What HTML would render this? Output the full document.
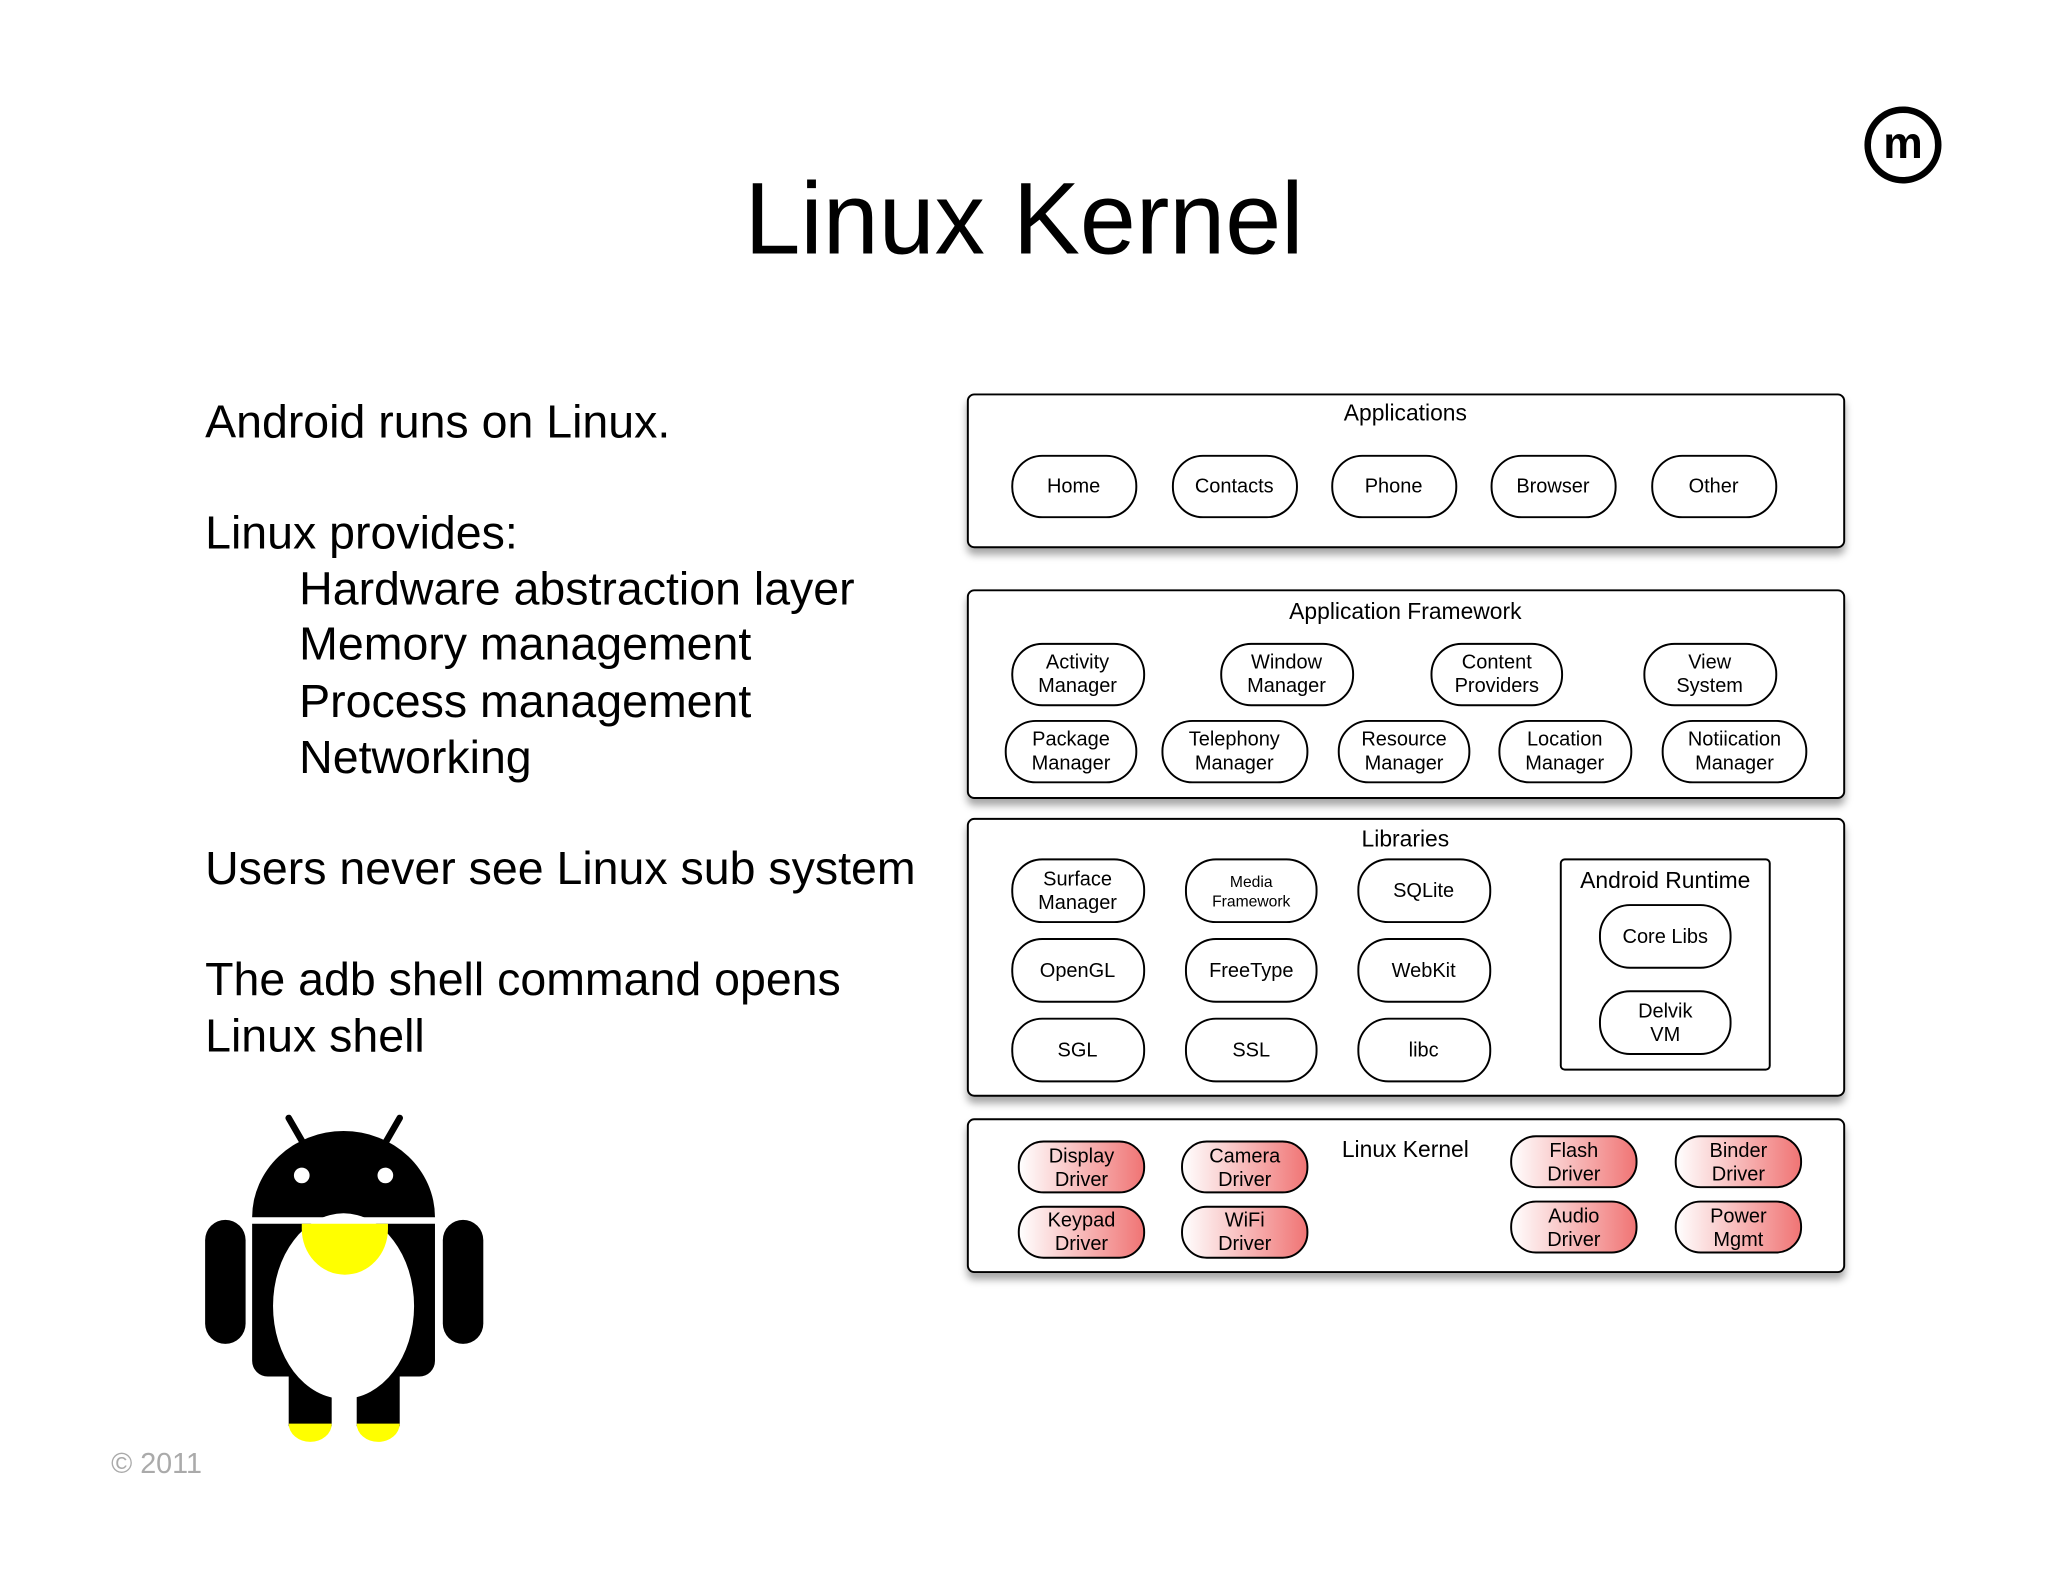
<!DOCTYPE html>
<html><head><meta charset="utf-8"><style>html,body{margin:0;padding:0;background:#fff;overflow:hidden}svg{display:block}</style></head>
<body>
<svg width="2048" height="1582" viewBox="0 0 1568 1211.3" xmlns="http://www.w3.org/2000/svg" font-family="Liberation Sans, sans-serif">
<defs>
<linearGradient id="rg" x1="0" x2="1" y1="0" y2="0"><stop offset="0" stop-color="#fff"/><stop offset="1" stop-color="#f07474"/></linearGradient>
<filter id="sh" x="-5%" y="-10%" width="110%" height="130%"><feDropShadow dx="0" dy="5" stdDeviation="3" flood-color="#000" flood-opacity="0.35"/></filter>
</defs>
<rect width="1568" height="1212" fill="#fff"/>
<text x="784" y="194" font-size="78" text-anchor="middle" fill="#000" textLength="428" lengthAdjust="spacingAndGlyphs">Linux Kernel</text>
<circle cx="1457" cy="111" r="27" fill="none" stroke="#000" stroke-width="5"/>
<text x="1457" y="121" font-size="34" font-weight="bold" text-anchor="middle">m</text>
<g font-size="35.6" fill="#000">
<text x="157" y="335">Android runs on Linux.</text>
<text x="157" y="420">Linux provides:</text>
<text x="229" y="463">Hardware abstraction layer</text>
<text x="229" y="505">Memory management</text>
<text x="229" y="549">Process management</text>
<text x="229" y="592">Networking</text>
<text x="157" y="677">Users never see Linux sub system</text>
<text x="157" y="762">The adb shell command opens</text>
<text x="157" y="805">Linux shell</text>
</g>
<text x="85" y="1128" font-size="22" fill="#aaa">© 2011</text>
<rect x="157" y="1105" width="10" height="30" fill="#fff"/>
<g>
<line x1="221" y1="856" x2="236" y2="882" stroke="#000" stroke-width="5" stroke-linecap="round"/>
<line x1="306" y1="856" x2="291" y2="882" stroke="#000" stroke-width="5" stroke-linecap="round"/>
<path d="M193 932 A70 66 0 0 1 333 932 Z" fill="#000"/>
<circle cx="231" cy="900" r="6" fill="#fff"/><circle cx="295" cy="900" r="6" fill="#fff"/>
<rect x="157" y="934" width="31" height="95" rx="15.5" fill="#000"/>
<rect x="339" y="934" width="31" height="95" rx="15.5" fill="#000"/>
<rect x="221" y="1030" width="33" height="62" fill="#000"/>
<rect x="273" y="1030" width="33" height="62" fill="#000"/>
<path d="M221 1090 h33 a16.5 14 0 0 1 -33 0 Z" fill="#ff0"/>
<path d="M273 1090 h33 a16.5 14 0 0 1 -33 0 Z" fill="#ff0"/>
<path d="M193 937 h140 v105 a12 12 0 0 1 -12 12 h-116 a12 12 0 0 1 -12 -12 Z" fill="#000"/>
<ellipse cx="263" cy="1000" rx="54" ry="71" fill="#fff"/>
<rect x="254" y="1040" width="19" height="60" fill="#fff"/>
<path d="M231 937 h66 v4 a33 35 0 0 1 -66 0 Z" fill="#ff0"/>
</g>
<g fill="#fff" stroke="#000" stroke-width="1.5" filter="url(#sh)">
<rect x="741" y="302" width="671" height="117" rx="5"/>
<rect x="741" y="452" width="671" height="159" rx="5"/>
<rect x="741" y="627" width="671" height="212" rx="5"/>
<rect x="741" y="857" width="671" height="117" rx="5"/>
</g>
<g font-size="17.5" text-anchor="middle" fill="#000">
<text x="1076" y="322">Applications</text>
<text x="1076" y="474">Application Framework</text>
<text x="1076" y="648">Libraries</text>
<text x="1076" y="886">Linux Kernel</text>
</g>
<g fill="#fff" stroke="#000" stroke-width="1.5">
<rect x="775" y="349" width="95" height="47" rx="23"/>
<rect x="898" y="349" width="95" height="47" rx="23"/>
<rect x="1020" y="349" width="95" height="47" rx="23"/>
<rect x="1142" y="349" width="95" height="47" rx="23"/>
<rect x="1265" y="349" width="95" height="47" rx="23"/>
<rect x="775" y="493" width="101" height="47" rx="23"/>
<rect x="935" y="493" width="101" height="47" rx="23"/>
<rect x="1096" y="493" width="100" height="47" rx="23"/>
<rect x="1259" y="493" width="101" height="47" rx="23"/>
<rect x="770" y="552" width="100" height="47" rx="23"/>
<rect x="890" y="552" width="111" height="47" rx="23"/>
<rect x="1025" y="552" width="100" height="47" rx="23"/>
<rect x="1148" y="552" width="101" height="47" rx="23"/>
<rect x="1273" y="552" width="110" height="47" rx="23"/>
<rect x="775" y="658" width="101" height="48" rx="23"/>
<rect x="908" y="658" width="100" height="48" rx="23"/>
<rect x="1040" y="658" width="101" height="48" rx="23"/>
<rect x="775" y="719" width="101" height="48" rx="23"/>
<rect x="908" y="719" width="100" height="48" rx="23"/>
<rect x="1040" y="719" width="101" height="48" rx="23"/>
<rect x="775" y="780" width="101" height="48" rx="23"/>
<rect x="908" y="780" width="100" height="48" rx="23"/>
<rect x="1040" y="780" width="101" height="48" rx="23"/>
<rect x="1195" y="658" width="160" height="161" rx="3"/>
<rect x="1225" y="693" width="100" height="48" rx="23"/>
<rect x="1225" y="759" width="100" height="48" rx="23"/>
</g>
<g fill="url(#rg)" stroke="#000" stroke-width="1.5">
<rect x="780" y="874" width="96" height="39" rx="19"/>
<rect x="905" y="874" width="96" height="39" rx="19"/>
<rect x="780" y="924" width="96" height="39" rx="19"/>
<rect x="905" y="924" width="96" height="39" rx="19"/>
<rect x="1157" y="870" width="96" height="39" rx="19"/>
<rect x="1283" y="870" width="96" height="39" rx="19"/>
<rect x="1157" y="920" width="96" height="39" rx="19"/>
<rect x="1283" y="920" width="96" height="39" rx="19"/>
</g>
<g font-size="15.3" text-anchor="middle" fill="#000">
<text x="822" y="377">Home</text><text x="945" y="377">Contacts</text><text x="1067" y="377">Phone</text><text x="1189" y="377">Browser</text><text x="1312" y="377">Other</text>
<text x="825" y="512">Activity</text><text x="825" y="530">Manager</text>
<text x="985" y="512">Window</text><text x="985" y="530">Manager</text>
<text x="1146" y="512">Content</text><text x="1146" y="530">Providers</text>
<text x="1309" y="512">View</text><text x="1309" y="530">System</text>
<text x="820" y="571">Package</text><text x="820" y="589">Manager</text>
<text x="945" y="571">Telephony</text><text x="945" y="589">Manager</text>
<text x="1075" y="571">Resource</text><text x="1075" y="589">Manager</text>
<text x="1198" y="571">Location</text><text x="1198" y="589">Manager</text>
<text x="1328" y="571">Notiication</text><text x="1328" y="589">Manager</text>
<text x="825" y="678">Surface</text><text x="825" y="696">Manager</text>
<text x="958" y="679" font-size="12">Media</text><text x="958" y="694" font-size="12">Framework</text>
<text x="1090" y="687">SQLite</text>
<text x="825" y="748">OpenGL</text><text x="958" y="748">FreeType</text><text x="1090" y="748">WebKit</text>
<text x="825" y="809">SGL</text><text x="958" y="809">SSL</text><text x="1090" y="809">libc</text>
<text x="1275" y="680" font-size="17.5">Android Runtime</text>
<text x="1275" y="722">Core Libs</text>
<text x="1275" y="779">Delvik</text><text x="1275" y="797">VM</text>
<text x="828" y="890">Display</text><text x="828" y="908">Driver</text>
<text x="953" y="890">Camera</text><text x="953" y="908">Driver</text>
<text x="828" y="939">Keypad</text><text x="828" y="957">Driver</text>
<text x="953" y="939">WiFi</text><text x="953" y="957">Driver</text>
<text x="1205" y="886">Flash</text><text x="1205" y="904">Driver</text>
<text x="1331" y="886">Binder</text><text x="1331" y="904">Driver</text>
<text x="1205" y="936">Audio</text><text x="1205" y="954">Driver</text>
<text x="1331" y="936">Power</text><text x="1331" y="954">Mgmt</text>
</g>
</svg>
</body></html>
